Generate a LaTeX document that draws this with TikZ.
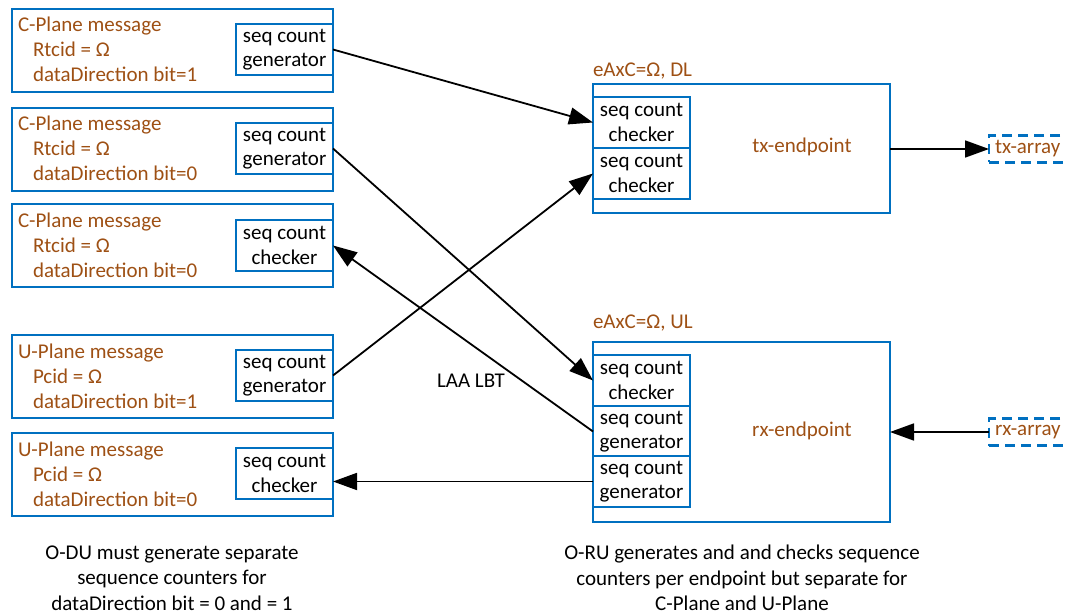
\documentclass[tikz,border=0pt]{standalone}
\usepackage{fontspec}
\setmainfont{Carlito}
\usetikzlibrary{arrows.meta}
\definecolor{boxblue}{RGB}{0,112,192}
\definecolor{labelbrown}{RGB}{158,80,20}
\begin{document}
\begin{tikzpicture}[x=1pt,y=-1pt,
  every node/.style={font=\fontsize{21}{25}\selectfont, inner sep=0pt, outer sep=0pt},
  msgbox/.style={draw=boxblue, line width=2.4pt, anchor=north west,
    minimum width=321pt, minimum height=83pt},
  cntbox/.style={draw=boxblue, line width=2.4pt, fill=white, anchor=north west,
    minimum width=97pt, minimum height=51pt, align=center, text=black,
    font=\fontsize{21}{24.5}\selectfont},
  epbox/.style={draw=boxblue, line width=2.4pt, anchor=north west, minimum width=297pt},
  brown/.style={text=labelbrown},
  firstline/.style={brown, anchor=base west},
  subline/.style={brown, anchor=base west},
  arraybox/.style={draw=boxblue, line width=2.2pt, dash pattern=on 10pt off 6pt,
    text=labelbrown, anchor=west, inner xsep=6pt, minimum height=27pt,
    text width=74pt, align=left},
  flow/.style={line width=1.8pt, -{Triangle[length=24pt,width=17pt]}},
  note/.style={align=center, text=black, font=\fontsize{21}{25.5}\selectfont}]

\useasboundingbox (0,0) rectangle (1066,615);
\clip (0,0) rectangle (1066,615);

% ---- O-DU side: message boxes with their counters ----
\node[msgbox] (m1) at (12,9) {};
\node[firstline] (m1a) at (18,32) {C-Plane message};
\node[subline] (m1b) at (33,57) {Rtcid = Ω};
\node[subline] (m1c) at (33,82) {dataDirection bit=1};
\node[cntbox] (c1) at (236,24) {seq count\\generator};

\node[msgbox] (m2) at (12,108) {};
\node[firstline] (m2a) at (18,131) {C-Plane message};
\node[subline] (m2b) at (33,156) {Rtcid = Ω};
\node[subline] (m2c) at (33,181) {dataDirection bit=0};
\node[cntbox] (c2) at (236,123) {seq count\\generator};

\node[msgbox] (m3) at (12,204) {};
\node[firstline] (m3a) at (18,227) {C-Plane message};
\node[subline] (m3b) at (33,252) {Rtcid = Ω};
\node[subline] (m3c) at (33,277) {dataDirection bit=0};
\node[cntbox] (c3) at (236,220) {seq count\\checker};

\node[msgbox] (m4) at (12,335) {};
\node[firstline] (m4a) at (18,358) {U-Plane message};
\node[subline] (m4b) at (33,383) {Pcid = Ω};
\node[subline] (m4c) at (33,408) {dataDirection bit=1};
\node[cntbox] (c4) at (236,350) {seq count\\generator};

\node[msgbox] (m5) at (12,433) {};
\node[firstline] (m5a) at (18,456) {U-Plane message};
\node[subline] (m5b) at (33,481) {Pcid = Ω};
\node[subline] (m5c) at (33,506) {dataDirection bit=0};
\node[cntbox] (c5) at (236,448) {seq count\\checker};

% ---- O-RU side: DL endpoint ----
\node[brown, anchor=base west] (dllab) at (593,77) {eAxC=Ω, DL};
\node[epbox, minimum height=129pt] (dl) at (593,84) {};
\node[cntbox] (dlc1) at (593,97) {seq count\\checker};
\node[cntbox] (dlc2) at (593,148) {seq count\\checker};
\node[brown] (tx) at (802,147) {tx-endpoint};
\node[arraybox] (txa) at (989,149) {tx-array};

% ---- O-RU side: UL endpoint ----
\node[brown, anchor=base west] (ullab) at (593,328) {eAxC=Ω, UL};
\node[epbox, minimum height=180pt] (ul) at (593,342) {};
\node[cntbox] (ulc1) at (593,355) {seq count\\checker};
\node[cntbox] (ulg1) at (593,406) {seq count\\generator};
\node[cntbox] (ulg2) at (593,456) {seq count\\generator};
\node[brown] (rx) at (802,431) {rx-endpoint};
\node[arraybox] (rxa) at (989,432) {rx-array};

% ---- message flows ----
\draw[flow] (c1.east) -- (dlc1.west);
\draw[flow] (c2.east) -- (ulc1.west);
\draw[flow] (c4.east) -- (dlc2.west);
\draw[flow] (ulg1.west) -- (c3.east);
\draw[flow] (ulg2.west) -- (ulg2.west -| c5.east);
\draw[flow] (dl.east |- txa.west) -- (txa.west);
\draw[flow] (rxa.west) -- (rxa.west -| ul.east);

\node[anchor=base] (laa) at (471,387) {LAA LBT};

% ---- notes ----
\node[note] (odu) at (172,578) {O-DU must generate separate\\sequence counters for\\dataDirection bit = 0 and = 1};
\node[note] (oru) at (742,578) {O-RU generates and and checks sequence\\counters per endpoint but separate for\\C-Plane and U-Plane};
\end{tikzpicture}
\end{document}
